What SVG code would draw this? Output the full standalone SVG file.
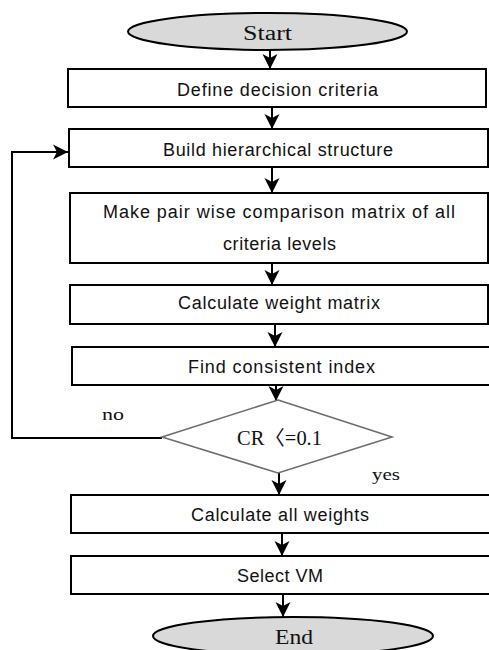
<svg xmlns="http://www.w3.org/2000/svg" width="489" height="650" viewBox="0 0 489 650">
<defs>
<style>
.box{fill:#fff;stroke:#000;stroke-width:2}
.term{fill:#d9d9d9;stroke:#000;stroke-width:2}
.dia{fill:#fff;stroke:#6e6e6e;stroke-width:1.6}
.lbl{font-family:"Liberation Sans","DejaVu Sans",sans-serif;font-size:18px;fill:#111;text-anchor:middle}
.ser{font-family:"Liberation Serif","DejaVu Serif","Noto Sans CJK KR",serif;font-size:20px;fill:#111;text-anchor:middle}
.con{fill:none;stroke:#000;stroke-width:2}
</style>
<marker id="ah" markerUnits="userSpaceOnUse" markerWidth="16" markerHeight="16" viewBox="0 0 16 16" refX="15" refY="8" orient="auto">
<path d="M0,0.5 L15,8 L0,15.5 L4,8 Z" fill="#000"/>
</marker>
</defs>
<g id="connectors">
<line class="con" x1="270" y1="50" x2="270" y2="69" marker-end="url(#ah)"/>
<line class="con" x1="272" y1="107" x2="272" y2="129" marker-end="url(#ah)"/>
<line class="con" x1="272" y1="167" x2="272" y2="193" marker-end="url(#ah)"/>
<line class="con" x1="272" y1="263" x2="272" y2="285" marker-end="url(#ah)"/>
<line class="con" x1="275" y1="324" x2="275" y2="347" marker-end="url(#ah)"/>
<line class="con" x1="276" y1="385" x2="276" y2="401" marker-end="url(#ah)"/>
<line class="con" x1="279" y1="473" x2="279" y2="495" marker-end="url(#ah)"/>
<line class="con" x1="282" y1="533" x2="282" y2="556" marker-end="url(#ah)"/>
<line class="con" x1="283" y1="594" x2="283" y2="617" marker-end="url(#ah)"/>
<polyline class="con" points="162,438 12,438 12,152 68,152" marker-end="url(#ah)"/>
</g>
<g id="start"><ellipse class="term" cx="267.5" cy="31.5" rx="139.5" ry="18.5"/><text class="ser" x="267.5" y="40" textLength="49" lengthAdjust="spacingAndGlyphs">Start</text></g>
<g id="define"><rect class="box" x="68" y="69" width="418" height="38"/><text class="lbl" x="277.5" y="96" textLength="201">Define decision criteria</text></g>
<g id="build"><rect class="box" x="69" y="129" width="419" height="38"/><text class="lbl" x="278" y="156" textLength="230">Build hierarchical structure</text></g>
<g id="pairwise"><rect class="box" x="70" y="193" width="418" height="70"/><text class="lbl" x="279" y="218" textLength="352">Make pair wise comparison matrix of all</text><text class="lbl" x="279.5" y="250" textLength="113">criteria levels</text></g>
<g id="weight"><rect class="box" x="70" y="285" width="418" height="39"/><text class="lbl" x="279" y="309" textLength="202">Calculate weight matrix</text></g>
<g id="consistent"><rect class="box" x="72" y="347" width="420" height="38"/><text class="lbl" x="281.5" y="373" textLength="187">Find consistent index</text></g>
<g id="decision"><polygon class="dia" points="278,400 392,437 278,473 162,437"/><text class="ser" x="279.5" y="445" textLength="85" lengthAdjust="spacingAndGlyphs">CR〈=0.1</text></g>
<g id="labels"><text class="ser" x="113" y="420" textLength="22" lengthAdjust="spacingAndGlyphs" style="font-size:17px">no</text><text class="ser" x="386" y="480" textLength="28" lengthAdjust="spacingAndGlyphs" style="font-size:17px">yes</text></g>
<g id="allweights"><rect class="box" x="71" y="495" width="422" height="38"/><text class="lbl" x="280" y="521" textLength="178">Calculate all weights</text></g>
<g id="selectvm"><rect class="box" x="71" y="556" width="422" height="38"/><text class="lbl" x="280" y="582" textLength="86">Select VM</text></g>
<g id="end"><ellipse class="term" cx="293" cy="636" rx="140" ry="19"/><text class="ser" x="294" y="644" textLength="38" lengthAdjust="spacingAndGlyphs">End</text></g>
</svg>
